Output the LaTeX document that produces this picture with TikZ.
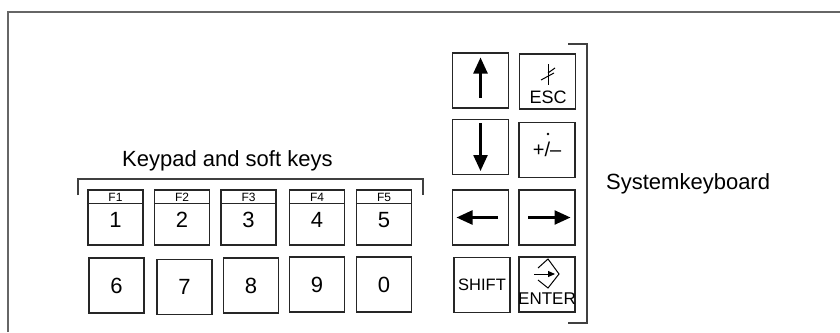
\documentclass[tikz,border=0pt]{standalone}
\usepackage{fontspec}
\setmainfont{Liberation Sans}
\usetikzlibrary{arrows.meta}
\begin{document}
\begin{tikzpicture}[x=1pt,y=-1pt,
  key/.style={draw=black!85,line width=1.3pt,minimum width=55pt,minimum height=55pt,inner sep=0pt,font=\fontsize{22}{22}\selectfont},
  skey/.style={key,minimum width=56pt,minimum height=55pt},
  flabel/.style={font=\fontsize{12}{12}\selectfont,inner sep=0pt},
  digit/.style={font=\fontsize{22}{22}\selectfont,inner sep=0pt},
  captext/.style={font=\fontsize{22}{22}\selectfont,inner sep=0pt},
  brk/.style={draw=black!75,line width=1.1pt},
  arr/.style={line width=2.4pt,-{Triangle[length=16pt,width=14pt]}},
  sym/.style={line width=1pt}]
\useasboundingbox (0,0) rectangle (840,332);
% outer frame
\coordinate (fbl) at (8,332);
\coordinate (ftl) at (8,12);
\coordinate (ftr) at (840,12);
\draw[draw=black!60,line width=1.5pt] (fbl) -- (ftl) -- (ftr);

% keypad caption and bracket
\node[captext,anchor=base west] (kcap) at (122,166) {Keypad and soft keys};
\coordinate (kb1) at (78,195);
\coordinate (kb2) at (78,179);
\coordinate (kb3) at (423,179);
\coordinate (kb4) at (423,195);
\draw[brk] (kb1) -- (kb2) -- (kb3) -- (kb4);

% row 1 soft keys
\foreach \n/\f/\x in {1/F1/115.5, 2/F2/182, 3/F3/248.5, 4/F4/317, 5/F5/384}{
  \node[key] (k\n) at (\x,217.5) {};
  \draw[line width=1.3pt,draw=black!85] ([yshift=-14pt]k\n.north west) -- ([yshift=-14pt]k\n.north east);
  \node[flabel] (f\n) at (\x,197.5) {\f};
  \node[digit] (d\n) at (\x,220) {\n};
}
% row 2
\node[key] (k6) at (116.5,285.5) {6};
\node[key] (k7) at (184.5,287) {\raisebox{-2pt}{7}};
\node[key] (k8) at (251,285.5) {8};
\node[key] (k9) at (317,284.5) {9};
\node[key] (k0) at (384,284.5) {0};

% system keys
\node[skey] (up) at (480.5,80.5) {};
\node[skey] (esc) at (547.5,81.5) {};
\node[skey] (down) at (480.5,147) {};
\node[skey] (pm) at (547,150) {};
\node[skey] (left) at (480.5,217.5) {};
\node[skey] (right) at (547,217.5) {};
\node[skey,font=\fontsize{16.5}{16.5}\selectfont] (shift) at (482,285) {SHIFT};
\node[skey] (enter) at (547,284.5) {};

% arrows
\draw[arr] ([yshift=-17pt]up.center) -- ([yshift=23pt]up.center);
\draw[arr] ([yshift=24pt]down.center) -- ([yshift=-24pt]down.center);
\draw[arr] ([xshift=17.5pt]left.center) -- ([xshift=-24pt]left.center);
\draw[arr] ([xshift=-19pt]right.center) -- ([xshift=23.5pt]right.center);

% ESC
\node[font=\fontsize{18}{18}\selectfont,inner sep=0pt] (esct) at (548,97) {ESC};
\coordinate (e1) at (548,64);
\coordinate (e2) at (548,85);
\coordinate (e3) at (548,73);
\coordinate (e4) at (555,68);
\coordinate (e5) at (541,80);
\coordinate (e6) at (554,73);
\draw[sym] (e1) -- (e2);
\draw[sym] (e3) -- (e4);
\draw[sym] (e5) -- (e6);

% +/-
\node[font=\fontsize{20}{20}\selectfont,inner sep=0pt] (pmt) at (547,149) {+/–};
\fill (548,134) circle (1.3pt);

% ENTER
\node[font=\fontsize{17}{17}\selectfont,inner sep=0pt] (entt) at (547,299) {ENTER};
\coordinate (n1) at (538,268);
\coordinate (n2) at (548,259);
\coordinate (n3) at (559,274);
\coordinate (n4) at (548,288);
\coordinate (n5) at (538,280);
\draw[sym] (n1) -- (n2) -- (n3) -- (n4) -- (n5);
\coordinate (na) at (534,274);
\coordinate (nb) at (555,274);
\draw[line width=1pt,-{Triangle[length=7pt,width=6pt]}] (na) -- (nb);

% system bracket
\coordinate (sb1) at (568,44);
\coordinate (sb2) at (587,44);
\coordinate (sb3) at (587,323);
\coordinate (sb4) at (568,323);
\draw[brk] (sb1) -- (sb2) -- (sb3) -- (sb4);
\node[captext,anchor=west] (scap) at (606,184) {Systemkeyboard};
\end{tikzpicture}
\end{document}
